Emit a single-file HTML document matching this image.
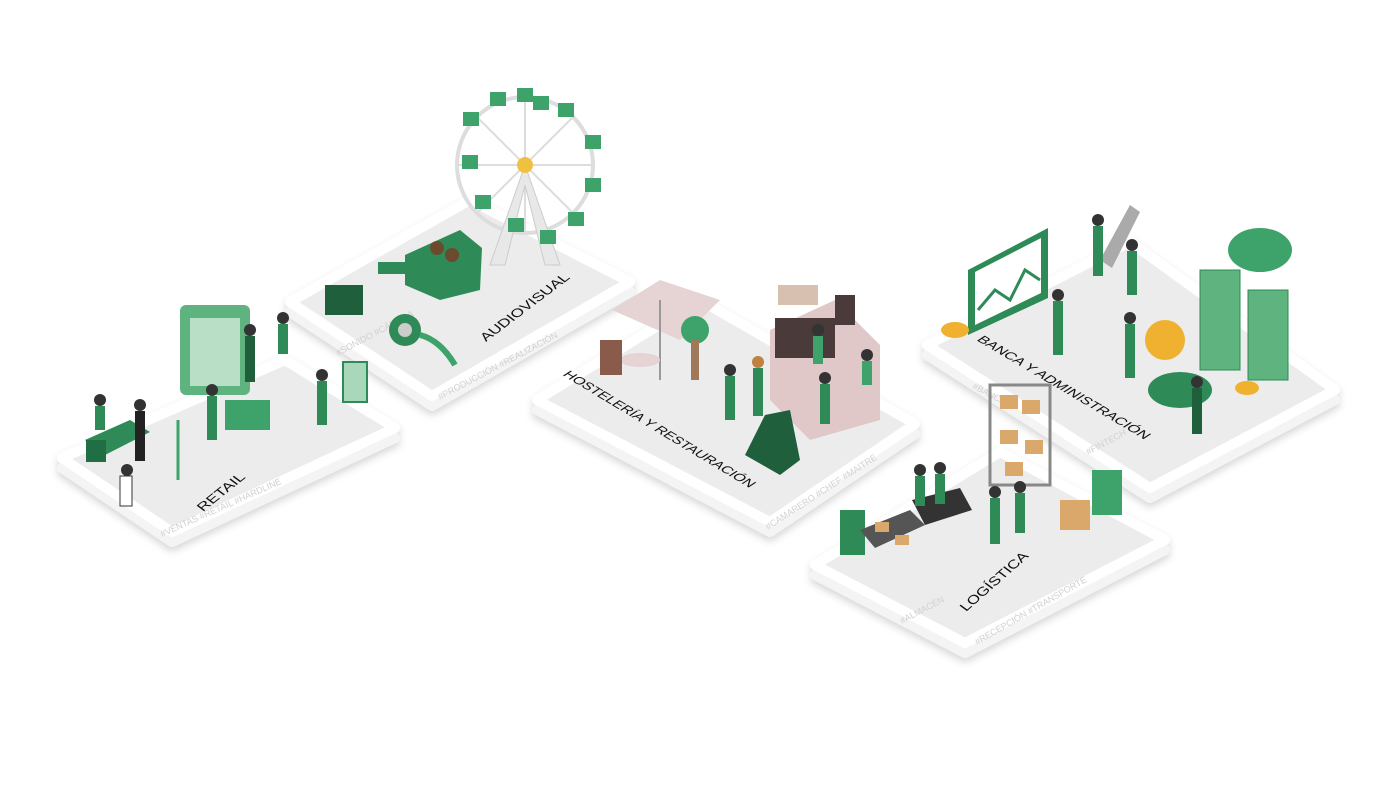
<!DOCTYPE html>
<html><head><meta charset="utf-8"><style>
html,body{margin:0;padding:0;background:#fff;width:1400px;height:788px;overflow:hidden}
svg{display:block}
.lab{font-family:"Liberation Sans",sans-serif;font-size:18px;fill:#111;letter-spacing:0}
.tag{font-family:"Liberation Sans",sans-serif;font-size:9px;fill:#d0d0d0}
</style></head><body>
<svg width="1400" height="788" viewBox="0 0 1400 788">
<defs>
<filter id="sh" x="-10%" y="-10%" width="120%" height="130%"><feDropShadow dx="0" dy="4" stdDeviation="4" flood-color="#000" flood-opacity=".16"/></filter>
</defs>
<g filter="url(#sh)" stroke-linejoin="round">
<polygon points="290,302 470,200 630,282 432,396" fill="#e6e6e6" stroke="#f4f4f4" stroke-width="10" transform="translate(0,10)"/>
<polygon points="290,302 470,200 630,282 432,396" fill="#ececec" stroke="#fff" stroke-width="10"/>
<polygon points="62,458 285,360 395,428 172,532" fill="#e6e6e6" stroke="#f4f4f4" stroke-width="10" transform="translate(0,10)"/>
<polygon points="62,458 285,360 395,428 172,532" fill="#ececec" stroke="#fff" stroke-width="10"/>
<polygon points="537,400 700,300 915,424 770,522" fill="#e6e6e6" stroke="#f4f4f4" stroke-width="10" transform="translate(0,10)"/>
<polygon points="537,400 700,300 915,424 770,522" fill="#ececec" stroke="#fff" stroke-width="10"/>
<polygon points="927,345 1130,242 1335,390 1150,488" fill="#e6e6e6" stroke="#f4f4f4" stroke-width="10" transform="translate(0,10)"/>
<polygon points="927,345 1130,242 1335,390 1150,488" fill="#ececec" stroke="#fff" stroke-width="10"/>
<polygon points="815,565 1000,452 1165,540 965,643" fill="#e6e6e6" stroke="#f4f4f4" stroke-width="10" transform="translate(0,10)"/>
<polygon points="815,565 1000,452 1165,540 965,643" fill="#ececec" stroke="#fff" stroke-width="10"/>
</g>

<text class="lab" transform="matrix(0.7,-0.56,0.6,0.45,203,512)">RETAIL</text>
<text class="lab" transform="matrix(0.7,-0.53,0.6,0.45,486,342)">AUDIOVISUAL</text>
<text class="lab" transform="matrix(0.68,0.41,-0.62,0.4,562,375)">HOSTELERÍA Y RESTAURACIÓN</text>
<text class="lab" transform="matrix(0.71,0.42,-0.62,0.4,976,340)">BANCA Y ADMINISTRACIÓN</text>
<text class="lab" transform="matrix(0.66,-0.58,0.6,0.45,966,612)">LOGÍSTICA</text>

<text class="tag" transform="translate(162,537) rotate(-24)">#VENTAS   #RETAIL   #HARDLINE</text>
<text class="tag" transform="translate(440,400) rotate(-28)">#PRODUCCIÓN  #REALIZACIÓN</text>
<text class="tag" transform="translate(338,356) rotate(-28)">#SONIDO  #CÁMARA</text>
<text class="tag" transform="translate(768,530) rotate(-33)">#CAMARERO  #CHEF  #MAITRE</text>
<text class="tag" transform="translate(972,388) rotate(28)">#BANCA</text>
<text class="tag" transform="translate(1088,455) rotate(-28)">#FINTECH</text>
<text class="tag" transform="translate(902,624) rotate(-28)">#ALMACÉN</text>
<text class="tag" transform="translate(977,645) rotate(-30)">#RECEPCIÓN  #TRANSPORTE</text>

<g>
<rect x="180" y="305" width="70" height="90" rx="6" fill="#5fb37f"/>
<rect x="190" y="318" width="50" height="68" fill="#b9e0c6"/>
<polygon points="85,440 130,420 150,432 105,455" fill="#2e8b57"/>
<rect x="86" y="440" width="20" height="22" fill="#1f6e44"/>
<rect x="225" y="400" width="45" height="30" fill="#3da36a"/>
<rect x="343" y="362" width="24" height="40" fill="#a8d8b9" stroke="#2e8b57" stroke-width="2"/>
<line x1="178" y1="420" x2="178" y2="480" stroke="#3da36a" stroke-width="3"/>
<circle cx="100" cy="400" r="6" fill="#333"/><rect x="95" y="406" width="10" height="24" fill="#2e8b57"/>
<circle cx="140" cy="405" r="6" fill="#333"/><rect x="135" y="411" width="10" height="50" fill="#222"/>
<circle cx="212" cy="390" r="6" fill="#333"/><rect x="207" y="396" width="10" height="44" fill="#2e8b57"/>
<circle cx="250" cy="330" r="6" fill="#333"/><rect x="245" y="336" width="10" height="46" fill="#1f5f3c"/>
<circle cx="283" cy="318" r="6" fill="#333"/><rect x="278" y="324" width="10" height="30" fill="#2e8b57"/>
<circle cx="322" cy="375" r="6" fill="#333"/><rect x="317" y="381" width="10" height="44" fill="#2e8b57"/>
<circle cx="127" cy="470" r="6" fill="#333"/><rect x="120" y="476" width="12" height="30" fill="#fff" stroke="#333"/>
</g>

<g>
<circle cx="525" cy="165" r="68" fill="none" stroke="#ddd" stroke-width="4"/>
<g stroke="#ddd" stroke-width="2">
<line x1="525" y1="97" x2="525" y2="233"/><line x1="457" y1="165" x2="593" y2="165"/>
<line x1="477" y1="117" x2="573" y2="213"/><line x1="573" y1="117" x2="477" y2="213"/>
</g>
<polygon points="525,165 490,265 505,265 525,185 545,265 560,265" fill="#e8e8e8" stroke="#ccc"/>
<circle cx="525" cy="165" r="8" fill="#f0c040"/>
<g fill="#3da36a">
<rect x="517" y="88" width="16" height="14"/><rect x="558" y="103" width="16" height="14"/><rect x="585" y="135" width="16" height="14"/>
<rect x="585" y="178" width="16" height="14"/><rect x="568" y="212" width="16" height="14"/><rect x="540" y="230" width="16" height="14"/>
<rect x="508" y="218" width="16" height="14"/><rect x="475" y="195" width="16" height="14"/><rect x="462" y="155" width="16" height="14"/>
<rect x="463" y="112" width="16" height="14"/><rect x="490" y="92" width="16" height="14"/><rect x="533" y="96" width="16" height="14"/>
</g>
<polygon points="405,255 460,230 482,248 480,290 440,300 405,285" fill="#2e8b57"/>
<rect x="378" y="262" width="40" height="12" fill="#2e8b57"/>
<rect x="325" y="285" width="38" height="30" fill="#1f5f3c"/>
<circle cx="405" cy="330" r="16" fill="#2e8b57"/><circle cx="405" cy="330" r="7" fill="#ccc"/>
<path d="M420 335 Q440 340 455 365" stroke="#3da36a" stroke-width="6" fill="none"/>
<circle cx="437" cy="248" r="7" fill="#6b4a2e"/><circle cx="452" cy="255" r="7" fill="#6b4a2e"/>
</g>

<g>
<polygon points="612,310 660,280 720,300 680,340" fill="#e6d4d4"/>
<line x1="660" y1="300" x2="660" y2="380" stroke="#999" stroke-width="2"/>
<ellipse cx="640" cy="360" rx="20" ry="7" fill="#e6d4d4"/>
<circle cx="695" cy="330" r="14" fill="#3da36a"/><rect x="691" y="340" width="8" height="40" fill="#a0785a"/>
<rect x="600" y="340" width="22" height="35" fill="#8a5a4a"/>
<polygon points="770,330 835,300 880,345 880,420 810,440 770,400" fill="#e0c8c8"/>
<rect x="775" y="318" width="60" height="40" fill="#4a3a3a"/>
<rect x="778" y="285" width="40" height="20" fill="#d8c0b0"/>
<rect x="835" y="295" width="20" height="30" fill="#4a3a3a"/>
<polygon points="745,455 765,415 790,410 800,460 780,475" fill="#1f5f3c"/>
<circle cx="758" cy="362" r="6" fill="#c08040"/><rect x="753" y="368" width="10" height="48" fill="#2e8b57"/>
<circle cx="730" cy="370" r="6" fill="#333"/><rect x="725" y="376" width="10" height="44" fill="#2e8b57"/>
<circle cx="825" cy="378" r="6" fill="#333"/><rect x="820" y="384" width="10" height="40" fill="#2e8b57"/>
<circle cx="818" cy="330" r="6" fill="#333"/><rect x="813" y="336" width="10" height="28" fill="#3da36a"/>
<circle cx="867" cy="355" r="6" fill="#333"/><rect x="862" y="361" width="10" height="24" fill="#3da36a"/>
</g>

<g>
<polygon points="968,270 1048,228 1048,298 968,335" fill="#2e8b57"/>
<polygon points="975,272 1041,238 1041,293 975,325" fill="#fff"/>
<polyline points="978,310 995,290 1010,300 1025,270 1040,280" stroke="#2e8b57" stroke-width="3" fill="none"/>
<polygon points="1100,260 1130,205 1140,212 1112,268" fill="#aaa"/>
<rect x="1200" y="270" width="40" height="100" fill="#5fb37f" stroke="#2e8b57"/>
<rect x="1248" y="290" width="40" height="90" fill="#5fb37f" stroke="#2e8b57"/>
<ellipse cx="1260" cy="250" rx="32" ry="22" fill="#3da36a"/>
<circle cx="1165" cy="340" r="20" fill="#f0b030"/>
<ellipse cx="1180" cy="390" rx="32" ry="18" fill="#2e8b57"/>
<ellipse cx="955" cy="330" rx="14" ry="8" fill="#f0b030"/>
<ellipse cx="1247" cy="388" rx="12" ry="7" fill="#f0b030"/>
<circle cx="1098" cy="220" r="6" fill="#333"/><rect x="1093" y="226" width="10" height="50" fill="#2e8b57"/>
<circle cx="1132" cy="245" r="6" fill="#333"/><rect x="1127" y="251" width="10" height="44" fill="#2e8b57"/>
<circle cx="1058" cy="295" r="6" fill="#333"/><rect x="1053" y="301" width="10" height="54" fill="#2e8b57"/>
<circle cx="1130" cy="318" r="6" fill="#333"/><rect x="1125" y="324" width="10" height="54" fill="#2e8b57"/>
<circle cx="1197" cy="382" r="6" fill="#333"/><rect x="1192" y="388" width="10" height="46" fill="#1f5f3c"/>
</g>

<g>
<rect x="990" y="385" width="60" height="100" fill="none" stroke="#888" stroke-width="3"/>
<g fill="#d9a86a"><rect x="1000" y="395" width="18" height="14"/><rect x="1022" y="400" width="18" height="14"/><rect x="1000" y="430" width="18" height="14"/><rect x="1025" y="440" width="18" height="14"/><rect x="1005" y="462" width="18" height="14"/></g>
<rect x="840" y="510" width="25" height="45" fill="#2e8b57"/>
<polygon points="860,530 910,510 925,525 875,548" fill="#555"/>
<rect x="875" y="522" width="14" height="10" fill="#d9a86a"/><rect x="895" y="535" width="14" height="10" fill="#d9a86a"/>
<polygon points="912,500 960,488 972,510 925,525" fill="#333"/>
<rect x="1060" y="500" width="30" height="30" fill="#d9a86a"/>
<rect x="1092" y="470" width="30" height="45" fill="#3da36a"/>
<circle cx="920" cy="470" r="6" fill="#333"/><rect x="915" y="476" width="10" height="30" fill="#2e8b57"/>
<circle cx="940" cy="468" r="6" fill="#333"/><rect x="935" y="474" width="10" height="30" fill="#2e8b57"/>
<circle cx="995" cy="492" r="6" fill="#333"/><rect x="990" y="498" width="10" height="46" fill="#2e8b57"/>
<circle cx="1020" cy="487" r="6" fill="#333"/><rect x="1015" y="493" width="10" height="40" fill="#2e8b57"/>
</g>
</svg>
</body></html>
